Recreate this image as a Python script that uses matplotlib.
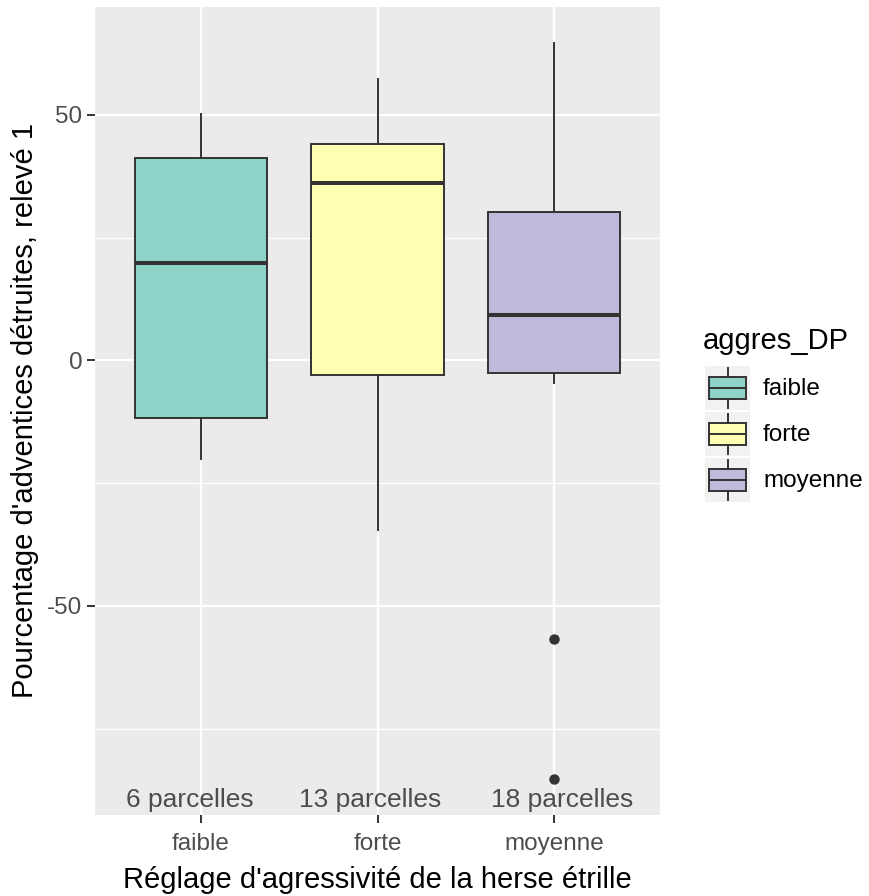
import matplotlib
matplotlib.use("Agg")
import matplotlib.pyplot as plt
from matplotlib.patches import Rectangle

plt.rcParams['font.family'] = ['Liberation Sans', 'DejaVu Sans']

# ---- data ----
categories = ['faible', 'forte', 'moyenne']
q1 = [-11.8, -3.0, -2.5]
medians = [19.8, 36.2, 9.2]
q3 = [41.2, 44.1, 30.2]
whisker_low = [-20.0, -34.5, -4.6]
whisker_high = [50.2, 57.3, 64.7]
outliers = [[], [], [-56.7, -85.3]]
counts = [6, 13, 18]
count_label_y = -89.5
colors = ['#8DD3C7', '#FFFFB3', '#BEBADA']
yticks = [-50, 0, 50]
yminor = [-75, -25, 25]
x_title = "Réglage d'agressivité de la herse étrille"
y_title = "Pourcentage d'adventices détruites, relevé 1"
legend_title = "aggres_DP"

# layout constants
W, H = 869, 896
fig = plt.figure(figsize=(W / 100, H / 100), dpi=100)
ax = fig.add_axes([95 / W, 1 - 815 / H, (660 - 95) / W, (815 - 7) / H])
ax.set_facecolor('#EBEBEB')
for s in ax.spines.values():
    s.set_visible(False)

positions = list(range(1, len(categories) + 1))
stats = []
for i, c in enumerate(categories):
    stats.append(dict(label=c, med=medians[i], q1=q1[i], q3=q3[i],
                      whislo=whisker_low[i], whishi=whisker_high[i],
                      fliers=outliers[i]))

edge = '#333333'
bp = ax.bxp(stats, positions=positions, widths=0.75, patch_artist=True,
            showcaps=False, zorder=3,
            boxprops=dict(edgecolor=edge, linewidth=1.4),
            medianprops=dict(color=edge, linewidth=2.9, solid_capstyle='butt'),
            whiskerprops=dict(color=edge, linewidth=1.4),
            flierprops=dict(marker='o', markerfacecolor=edge, markeredgecolor=edge,
                            markersize=6.5, linestyle='none'))
for patch, col in zip(bp['boxes'], colors):
    patch.set_facecolor(col)

ax.set_xlim(0.4, len(categories) + 0.6)
ax.set_ylim(-92.6, 72.0)

# grid
for y in yminor:
    ax.axhline(y, color='white', linewidth=0.9, zorder=0)
for y in yticks:
    ax.axhline(y, color='white', linewidth=1.6, zorder=0)
for x in positions:
    ax.axvline(x, color='white', linewidth=1.6, zorder=0)

ax.set_yticks(yticks)
ax.set_yticklabels([str(v) for v in yticks])
ax.set_xticks(positions)
ax.set_xticklabels(categories)
ax.tick_params(axis='both', colors='#333333', length=6, width=1.4,
               labelcolor='#4D4D4D', labelsize=17.5)
ax.tick_params(axis='x', pad=7)
ax.tick_params(axis='y', pad=3)

ax.set_xlabel(x_title, fontsize=21, color='black', labelpad=8)
ax.set_ylabel(y_title, fontsize=21, color='black', labelpad=6)

# count labels
label_dx = [-0.065, -0.04, 0.045]
for i, n in enumerate(counts):
    ax.text(positions[i] + label_dx[i], count_label_y, f"{n} parcelles",
            ha='center', va='center', fontsize=19, color='#4D4D4D', zorder=4)

# legend (manual)
fig.text(703 / W, 1 - 341 / H, legend_title, fontsize=21, ha='left', va='center')
key_left, key_w, key_h, key_top, key_step = 705, 45, 44, 366, 46
for i, (c, col) in enumerate(zip(categories, colors)):
    top = key_top + i * key_step
    kax = fig.add_axes([key_left / W, 1 - (top + key_h) / H, key_w / W, key_h / H])
    kax.set_xlim(0, 1)
    kax.set_ylim(0, 1)
    kax.set_facecolor('#F2F2F2')
    kax.set_xticks([])
    kax.set_yticks([])
    for s in kax.spines.values():
        s.set_visible(False)
    kax.add_patch(Rectangle((0.08, 0.25), 0.84, 0.5, facecolor=col,
                            edgecolor=edge, linewidth=1.4))
    kax.plot([0.08, 0.92], [0.5, 0.5], color=edge, linewidth=1.4)
    kax.plot([0.5, 0.5], [0.75, 0.96], color=edge, linewidth=1.4)
    kax.plot([0.5, 0.5], [0.04, 0.25], color=edge, linewidth=1.4)
    fig.text(763 / W, 1 - (top + key_h / 2 + 1) / H, c, fontsize=17.5,
             ha='left', va='center', color='black')

fig.savefig('out.png', dpi=100, facecolor='white')
